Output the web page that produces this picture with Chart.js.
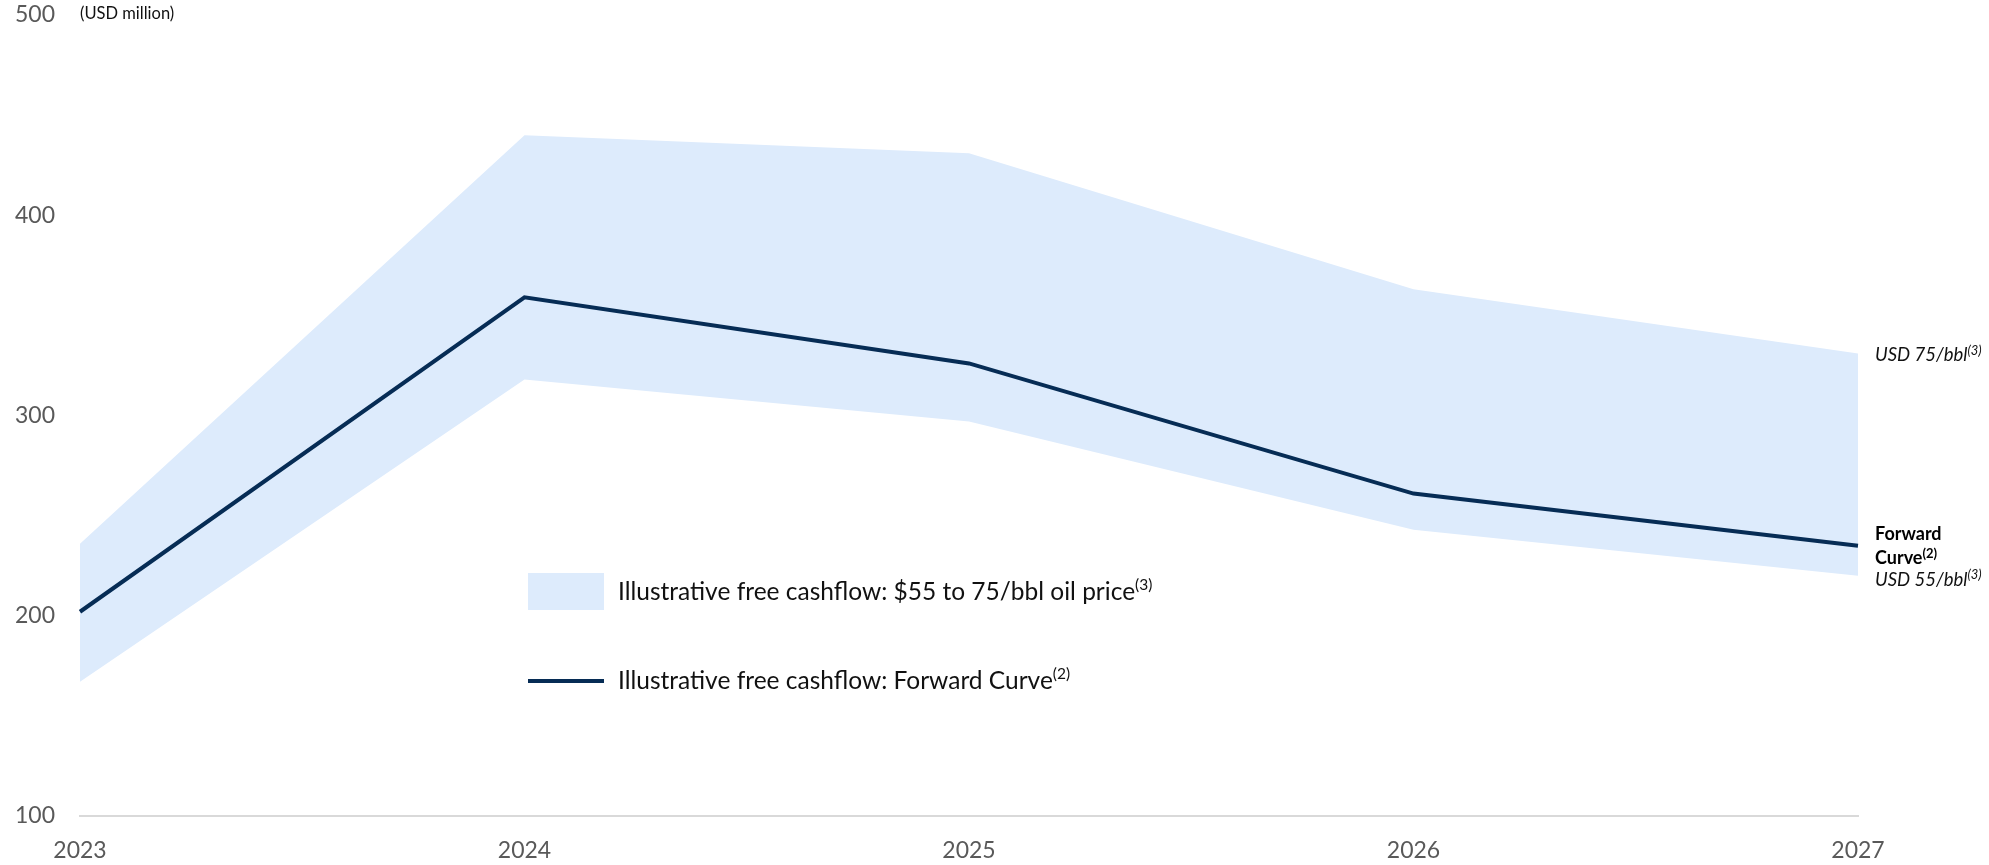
<!DOCTYPE html>
<html>
<head>
<meta charset="utf-8">
<title>Illustrative free cashflow</title>
<script src="https://cdn.jsdelivr.net/npm/chart.js@4/dist/chart.umd.min.js"></script>
<style>
  html, body { margin: 0; padding: 0; background: #ffffff; }
  #wrap { width: 1989px; height: 865px; }
  canvas { display: block; }
</style>
</head>
<body>
<div id="wrap"><canvas id="fcf" width="1989" height="865"></canvas></div>
<script>
// Years on the horizontal axis
const categories = ['2023', '2024', '2025', '2026', '2027'];
// Free cashflow at USD 75/bbl (upper edge of the range), USD million
const priceHigh = [236, 440, 431, 363, 331];
// Free cashflow at USD 55/bbl (lower edge of the range), USD million
const priceLow = [167, 318, 297, 243, 220];
// Free cashflow on the forward curve, USD million
const forwardCurve = [202, 359, 326, 261, 235];
// Value axis ticks
const yTicks = [100, 200, 300, 400, 500];

const NAVY = '#062c55';
const BAND = '#ddebfc';
const TICK = '#595959';
const FONT = 'Lato, "Open Sans", "Liberation Sans", sans-serif';

// Draw a run of text pieces (normal + superscript) left to right
function drawRuns(ctx, x, y, runs, color) {
  ctx.save();
  ctx.fillStyle = color;
  ctx.textBaseline = 'middle';
  ctx.textAlign = 'left';
  let cx = x;
  for (const r of runs) {
    ctx.font = r.font;
    ctx.fillText(r.text, cx, y + (r.dy || 0));
    cx += ctx.measureText(r.text).width;
  }
  ctx.restore();
}

const annotations = {
  id: 'annotations',
  afterDraw(chart) {
    const ctx = chart.ctx;
    const area = chart.chartArea;
    const ys = chart.scales.y;
    const last = categories.length - 1;

    // unit label beside the top tick
    drawRuns(ctx, area.left, 14, [{ text: '(USD million)', font: `16.5px ${FONT}` }], '#111');

    // end-of-series labels
    const lx = area.right + 17;
    const yHigh = ys.getPixelForValue(priceHigh[last]);
    const yFwd = ys.getPixelForValue(forwardCurve[last]);
    const yLow = ys.getPixelForValue(priceLow[last]);
    drawRuns(ctx, lx, yHigh + 2, [
      { text: 'USD 75/bbl', font: `italic 18.5px ${FONT}` },
      { text: '(3)', font: `italic 13px ${FONT}`, dy: -5 }
    ], '#111');
    drawRuns(ctx, lx, yFwd - 11, [{ text: 'Forward', font: `bold 18px ${FONT}` }], '#000');
    drawRuns(ctx, lx, yFwd + 13, [
      { text: 'Curve', font: `bold 18px ${FONT}` },
      { text: '(2)', font: `bold 13px ${FONT}`, dy: -5 }
    ], '#000');
    drawRuns(ctx, lx, yLow + 4, [
      { text: 'USD 55/bbl', font: `italic 18.5px ${FONT}` },
      { text: '(3)', font: `italic 13px ${FONT}`, dy: -5 }
    ], '#111');

    // legend
    ctx.save();
    ctx.fillStyle = BAND;
    ctx.fillRect(528, 573, 76, 37);
    ctx.strokeStyle = NAVY;
    ctx.lineWidth = 4;
    ctx.beginPath();
    ctx.moveTo(528, 681);
    ctx.lineTo(604, 681);
    ctx.stroke();
    ctx.restore();
    drawRuns(ctx, 618, 592, [
      { text: 'Illustrative free cashflow: $55 to 75/bbl oil price', font: `24.5px ${FONT}` },
      { text: '(3)', font: `15.5px ${FONT}`, dy: -7 }
    ], '#111');
    drawRuns(ctx, 618, 681, [
      { text: 'Illustrative free cashflow: Forward Curve', font: `24.5px ${FONT}` },
      { text: '(2)', font: `15.5px ${FONT}`, dy: -7 }
    ], '#111');
  }
};

new Chart(document.getElementById('fcf'), {
  type: 'line',
  data: {
    labels: categories,
    datasets: [
      {
        label: 'Illustrative free cashflow: Forward Curve',
        data: forwardCurve,
        borderColor: NAVY,
        borderWidth: 4,
        pointRadius: 0,
        tension: 0,
        fill: false,
        order: 0
      },
      {
        label: 'USD 75/bbl',
        data: priceHigh,
        borderWidth: 0,
        borderColor: 'rgba(0,0,0,0)',
        backgroundColor: BAND,
        pointRadius: 0,
        tension: 0,
        fill: 2,
        order: 1
      },
      {
        label: 'USD 55/bbl',
        data: priceLow,
        borderWidth: 0,
        borderColor: 'rgba(0,0,0,0)',
        pointRadius: 0,
        tension: 0,
        fill: false,
        order: 2
      }
    ]
  },
  options: {
    responsive: false,
    animation: false,
    devicePixelRatio: 1,
    layout: { padding: { top: 15, right: 131, left: 0, bottom: 0 } },
    plugins: {
      legend: { display: false },
      tooltip: { enabled: false },
      filler: { propagate: false }
    },
    scales: {
      x: {
        offset: false,
        grid: { display: false, drawTicks: false },
        border: { display: true, color: '#d9d9d9', width: 2 },
        ticks: {
          color: TICK,
          font: { family: FONT, size: 23 },
          padding: 21,
          maxRotation: 0,
          autoSkip: false
        },
        afterFit(scale) {
          scale.height = 49;
          scale.paddingLeft = 0;
          scale.paddingRight = 0;
        }
      },
      y: {
        min: 100,
        max: 500,
        afterBuildTicks(scale) { scale.ticks = yTicks.map(v => ({ value: v })); },
        grid: { display: false, drawTicks: false },
        border: { display: false },
        ticks: {
          color: TICK,
          font: { family: FONT, size: 23 },
          padding: 25
        },
        afterFit(scale) {
          scale.width = 80;
          scale.paddingTop = 0;
          scale.paddingBottom = 0;
        }
      }
    }
  },
  plugins: [annotations]
});
</script>
</body>
</html>
